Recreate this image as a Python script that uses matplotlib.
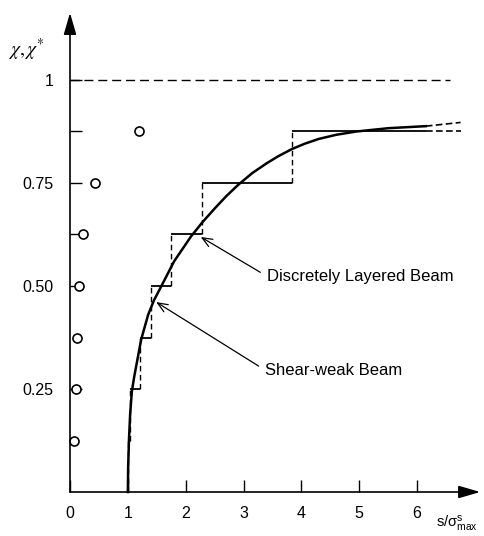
import matplotlib
matplotlib.use("Agg")
import matplotlib.pyplot as plt

plt.rcParams['font.family'] = ['Liberation Sans', 'DejaVu Sans']

# open circles (experimental points)
circle_x = [0.07, 0.11, 0.12, 0.16, 0.23, 0.43, 1.2]
circle_chi = [0.125, 0.25, 0.375, 0.5, 0.625, 0.75, 0.875]

# shear-weak beam curve
curve_s = [1.00, 1.005, 1.02, 1.04, 1.07, 1.11, 1.15, 1.23, 1.35, 1.45, 1.58,
           1.80, 2.09, 2.29, 2.50, 2.70, 2.91, 3.15, 3.40, 3.60, 3.83, 4.05,
           4.30, 4.60, 4.95, 5.50, 6.15]
curve_chi = [0.00, 0.06, 0.13, 0.19, 0.245, 0.28, 0.31, 0.37, 0.43, 0.465, 0.50,
             0.56, 0.62, 0.655, 0.688, 0.718, 0.746, 0.774, 0.798, 0.815, 0.832,
             0.845, 0.857, 0.867, 0.875, 0.883, 0.888]
curve_ext_s = [6.15, 6.75]
curve_ext_chi = [0.888, 0.897]

# discretely layered beam (staircase)
step_edges = [1.0, 1.04, 1.21, 1.40, 1.75, 2.29, 3.83, 6.15]
step_levels = [0.125, 0.25, 0.375, 0.5, 0.625, 0.75, 0.875]
step_ext_s = [6.15, 6.75]

limit_s = [0, 6.57]
limit_chi = [1.0, 1.0]

x_ticks = [0, 1, 2, 3, 4, 5, 6]
y_ticks = [0.25, 0.5, 0.625, 0.75, 0.875, 1.0]
y_labels = ['0.25', '0.50', '', '0.75', '', '1']

fig = plt.figure(figsize=(4.84, 5.36), dpi=100)
ax = fig.add_axes([0, 0, 1, 1])
# pixel layout: s=0 at x=70px, 57.86 px per unit; chi=0 at y=492px, 412 px per unit
ax.set_xlim(-70 / 57.86, (484 - 70) / 57.86)
ax.set_ylim(-(536 - 492) / 412, 492 / 412)

for side in ['left', 'bottom']:
    ax.spines[side].set_position(('data', 0))
for sp in ax.spines.values():
    sp.set_visible(False)

ax.set_xticks(x_ticks)
ax.set_xticklabels([str(t) for t in x_ticks])
ax.set_yticks(y_ticks)
ax.set_yticklabels(y_labels)
ax.tick_params(direction='in', length=8.5, width=1, labelsize=11.5)
ax.tick_params(axis='x', pad=10)
ax.tick_params(axis='y', pad=12)

# axis lines with arrow heads
arrow_kw = dict(arrowstyle='-|>,head_length=1.1,head_width=0.32', lw=1.2,
                color='k', shrinkA=0, shrinkB=0, mutation_scale=12)
ax.annotate('', xy=(0, 1.163), xytext=(0, 0), arrowprops=arrow_kw)
ax.annotate('', xy=(7.09, 0), xytext=(0, 0), arrowprops=arrow_kw)

# limit line chi = 1
ax.plot(limit_s, limit_chi, color='k', lw=1, ls=(0, (6.5, 3.5)))

# staircase
for k, lev in enumerate(step_levels):
    ax.plot([step_edges[k], step_edges[k + 1]], [lev, lev], color='k', lw=1.3,
            solid_capstyle='butt')
    if k + 1 < len(step_levels):
        ax.plot([step_edges[k + 1], step_edges[k + 1]], [lev, step_levels[k + 1]],
                color='k', lw=1, ls=(0, (4, 2.5)))
ax.plot([step_edges[0], step_edges[0]], [0, step_levels[0]], color='k', lw=1,
        ls=(0, (4, 2.5)))
ax.plot(step_ext_s, [step_levels[-1]] * 2, color='k', lw=1.2, ls=(0, (4, 2)))

# shear-weak curve
ax.plot(curve_s, curve_chi, color='k', lw=1.8, solid_joinstyle='round')
ax.plot(curve_ext_s, curve_ext_chi, color='k', lw=1.2, ls=(0, (4, 2)))

# circles
ax.plot(circle_x, circle_chi, 'o', mfc='white', mec='k', ms=6.5, mew=1.2,
        clip_on=False)

# annotations
ann_kw = dict(arrowstyle='->,head_length=0.6,head_width=0.25', lw=0.9, color='k',
              shrinkA=3, shrinkB=0, relpos=(0, 0.5))
ax.annotate('Discretely Layered Beam', xy=(2.26, 0.619), xytext=(3.40, 0.524),
            fontsize=12, va='center', ha='left', arrowprops=ann_kw)
ax.annotate('Shear-weak Beam', xy=(1.49, 0.461), xytext=(3.37, 0.296),
            fontsize=12, va='center', ha='left', arrowprops=ann_kw)

# axis titles
fig.text(8 / 484, 1 - 50 / 536, r'$\chi,\chi^{*}$', fontsize=14, va='center',
         ha='left', math_fontfamily='stix')
fig.text(436 / 484, 1 - 528 / 536, r'$\mathregular{s/σ^{s}_{max}}$', fontsize=10.5,
         va='baseline', ha='left')

fig.savefig('out.png', dpi=100)
